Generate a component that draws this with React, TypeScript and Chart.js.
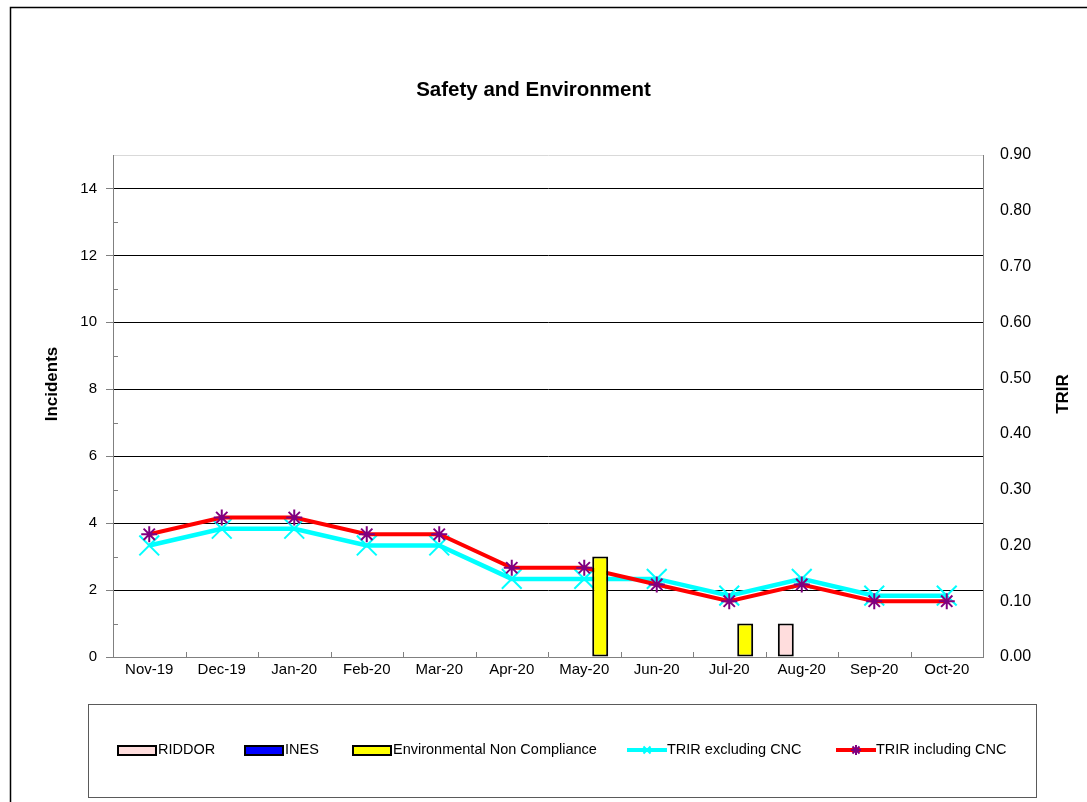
import React, { useEffect, useRef } from 'react';
import { Chart, registerables } from 'chart.js';
import { drawPoint } from 'chart.js/helpers';

Chart.register(...registerables);

const chartTitle = 'Safety and Environment';
const leftAxisTitle = 'Incidents';
const rightAxisTitle = 'TRIR';

const months = ['Nov-19', 'Dec-19', 'Jan-20', 'Feb-20', 'Mar-20', 'Apr-20', 'May-20', 'Jun-20', 'Jul-20', 'Aug-20', 'Sep-20', 'Oct-20'];
const riddor = [0, 0, 0, 0, 0, 0, 0, 0, 0, 1, 0, 0];
const ines = [0, 0, 0, 0, 0, 0, 0, 0, 0, 0, 0, 0];
const envNonCompliance = [0, 0, 0, 0, 0, 0, 3, 0, 1, 0, 0, 0];
const trirExcludingCnc = [0.20, 0.23, 0.23, 0.20, 0.20, 0.14, 0.14, 0.14, 0.11, 0.14, 0.11, 0.11];
const trirIncludingCnc = [0.22, 0.25, 0.25, 0.22, 0.22, 0.16, 0.16, 0.13, 0.10, 0.13, 0.10, 0.10];

const incidentsMax = 15;
const trirMax = 0.9;
const trirStep = 0.1;

const FONT = '"Liberation Sans", Arial, sans-serif';
const legendStarts = [118, 245, 353, 627, 836];

const decorPlugin = {
  id: 'decor',
  afterDraw(chart: any) {
    const { ctx } = chart;
    const ys = chart.scales.y;
    const xs = chart.scales.x;
    const area = chart.chartArea;
    ctx.save();
    // outer frame
    ctx.strokeStyle = '#000';
    ctx.lineWidth = 1.5;
    ctx.beginPath();
    ctx.moveTo(10.5, 802);
    ctx.lineTo(10.5, 7.5);
    ctx.lineTo(1087, 7.5);
    ctx.stroke();

    // chart title
    ctx.fillStyle = '#000';
    ctx.font = 'bold 20.5px ' + FONT;
    ctx.textAlign = 'center';
    ctx.textBaseline = 'middle';
    ctx.fillText(chartTitle, 533.5, 90);

    // minor ticks on left axis (inside)
    ctx.strokeStyle = '#808080';
    ctx.lineWidth = 1;
    ctx.beginPath();
    for (let v = 1; v < incidentsMax; v += 2) {
      const y = Math.round(ys.getPixelForValue(v)) + 0.5;
      ctx.moveTo(area.left, y);
      ctx.lineTo(area.left + 5, y);
    }
    // category boundary ticks on x axis (inside)
    for (let i = 1; i < months.length; i++) {
      const x = Math.round((xs.getPixelForValue(i - 1) + xs.getPixelForValue(i)) / 2) + 0.5;
      ctx.moveTo(x, area.bottom);
      ctx.lineTo(x, area.bottom - 5);
    }
    ctx.stroke();

    // axis titles
    ctx.font = 'bold 17px ' + FONT;
    ctx.fillStyle = '#000';
    ctx.textAlign = 'center';
    ctx.textBaseline = 'middle';
    ctx.save();
    ctx.translate(52, 384);
    ctx.rotate(-Math.PI / 2);
    ctx.fillText(leftAxisTitle, 0, 0);
    ctx.restore();
    ctx.save();
    ctx.translate(1063, 394);
    ctx.rotate(-Math.PI / 2);
    ctx.fillText(rightAxisTitle, 0, 0);
    ctx.restore();

    // legend box
    ctx.strokeStyle = '#5a5a5a';
    ctx.lineWidth = 1;
    ctx.strokeRect(88.5, 704.5, 948, 93);
    const cy = 750;
    ctx.font = '14.5px ' + FONT;
    ctx.textBaseline = 'middle';
    ctx.textAlign = 'left';
    chart.data.datasets.forEach((ds: any, i: number) => {
      const x0 = legendStarts[i];
      if (ds.type === 'line') {
        ctx.strokeStyle = ds.borderColor;
        ctx.lineWidth = 4;
        ctx.beginPath();
        ctx.moveTo(x0, cy);
        ctx.lineTo(x0 + 40, cy);
        ctx.stroke();
        ctx.strokeStyle = ds.pointBorderColor;
        ctx.lineWidth = 2;
        drawPoint(ctx, { pointStyle: ds.pointStyle, radius: 5, borderWidth: 2, rotation: 0 } as any, x0 + 20, cy);
      } else {
        ctx.fillStyle = ds.backgroundColor;
        ctx.fillRect(x0, cy - 4, 38, 9);
        ctx.strokeStyle = '#000';
        ctx.lineWidth = 2;
        ctx.strokeRect(x0, cy - 4, 38, 9);
      }
      ctx.fillStyle = '#000';
      ctx.fillText(ds.label, x0 + 40, cy);
    });
    ctx.restore();
  },
};

export default function App() {
  const ref = useRef<HTMLCanvasElement | null>(null);
  useEffect(() => {
    if (!ref.current) return;
    const barCommon = { borderColor: '#000', borderWidth: 2, borderSkipped: false, yAxisID: 'y', order: 0, categoryPercentage: 0.66, barPercentage: 1 };
    const chart = new Chart(ref.current, {
      type: 'bar',
      data: {
        labels: months,
        datasets: [
          { type: 'bar', label: 'RIDDOR', data: riddor, backgroundColor: '#FFDDDD', ...barCommon },
          { type: 'bar', label: 'INES', data: ines, backgroundColor: '#0000FF', ...barCommon },
          { type: 'bar', label: 'Environmental Non Compliance', data: envNonCompliance, backgroundColor: '#FFFF00', ...barCommon },
          { type: 'line', label: 'TRIR excluding CNC', data: trirExcludingCnc, borderColor: '#00FFFF', backgroundColor: '#00FFFF', borderWidth: 4.5, pointStyle: 'crossRot', pointRadius: 14, pointBorderColor: '#00FFFF', pointBorderWidth: 2, tension: 0, yAxisID: 'y1', order: 1 },
          { type: 'line', label: 'TRIR including CNC', data: trirIncludingCnc, borderColor: '#FF0000', backgroundColor: '#FF0000', borderWidth: 4, pointStyle: 'star', pointRadius: 8, pointBorderColor: '#800080', pointBorderWidth: 2, tension: 0, yAxisID: 'y1', order: 0 },
        ] as any,
      },
      options: {
        animation: false,
        responsive: false,
        layout: { padding: { top: 155, left: 0, right: 0, bottom: 0 } },
        plugins: {
          legend: { display: false },
          tooltip: { enabled: false },
          title: { display: false },
        },
        scales: {
          x: {
            grid: { color: 'transparent', drawTicks: false },
            border: { color: '#808080', width: 1 },
            ticks: { color: '#000', font: { family: FONT, size: 15 }, padding: 4, maxRotation: 0, autoSkip: false },
            afterFit: (s: any) => { s.height = 145; },
          },
          y: {
            position: 'left',
            min: 0,
            max: incidentsMax,
            grid: {
              color: (c: any) => {
                const v = c.tick && c.tick.value;
                if (v === incidentsMax) return '#d9d9d9';
                if (v > 0 && v % 2 === 0) return '#000';
                return 'transparent';
              },
              tickColor: (c: any) => {
                const v = c.tick && c.tick.value;
                return v % 2 === 0 ? '#808080' : 'transparent';
              },
              tickLength: 7,
              lineWidth: 1,
            },
            border: { color: '#808080', width: 1 },
            ticks: {
              stepSize: 1,
              autoSkip: false,
              color: '#000',
              font: { family: FONT, size: 15 },
              padding: 9,
              callback: (v: any) => (Number(v) % 2 === 0 ? String(v) : ''),
            },
            afterFit: (s: any) => { s.width = 113; },
          },
          y1: {
            position: 'right',
            min: 0,
            max: trirMax,
            grid: { drawOnChartArea: false, drawTicks: false },
            border: { color: '#808080', width: 1 },
            ticks: {
              stepSize: trirStep,
              color: '#000',
              font: { family: FONT, size: 16 },
              padding: 17,
              callback: (v: any) => Number(v).toFixed(2),
            },
            afterFit: (s: any) => { s.width = 104; },
          },
        },
      } as any,
      plugins: [decorPlugin],
    });
    return () => chart.destroy();
  }, []);
  return (
    <div style={{ position: 'fixed', left: 0, top: 0, width: 1087, height: 802, background: '#fff' }}>
      <canvas ref={ref} width={1087} height={802} style={{ display: 'block' }} />
    </div>
  );
}
